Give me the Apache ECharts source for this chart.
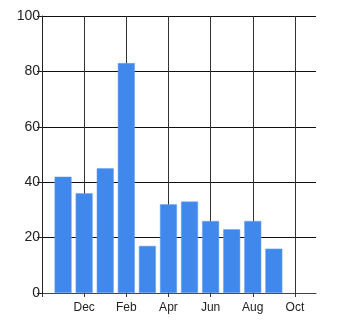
<!DOCTYPE html>
<html><head><meta charset="utf-8">
<script src="https://cdn.jsdelivr.net/npm/echarts@6/dist/echarts.min.js"></script>
<style>html,body{margin:0;padding:0;background:#fff}#c{width:345px;height:335px}</style>
</head><body><div id="c"></div>
<script>
var categories = ['Oct','Nov','Dec','Jan','Feb','Mar','Apr','May','Jun','Jul','Aug','Sep','Oct','Nov'];
var values = [null, 42, 36, 45, 83, 17, 32, 33, 26, 23, 26, 16, null, null];
var yTicks = [0, 20, 40, 60, 80, 100];

var shown = function (i) { return i > 0 && i % 2 === 0 && i <= 12; };
var tickShown = function (i) { return i % 2 === 0 && i <= 12; };

var chart = echarts.init(document.getElementById('c'), null, {renderer: 'canvas'});
chart.setOption({
  animation: false,
  backgroundColor: '#fff',
  grid: {left: 42, right: 29, top: 16, bottom: 42, containLabel: false},
  xAxis: {
    type: 'category',
    data: categories,
    boundaryGap: false,
    axisLine: {show: true, lineStyle: {color: '#444', width: 1}},
    axisTick: {show: true, interval: function (i) { return tickShown(i); }, length: 4, lineStyle: {color: '#333'}},
    axisLabel: {interval: function (i) { return shown(i); }, color: '#222', fontFamily: 'Liberation Sans', fontSize: 12, margin: 9},
    splitLine: {show: true, interval: function (i) { return tickShown(i); }, lineStyle: {color: '#333', width: 1}}
  },
  yAxis: {
    type: 'value',
    min: yTicks[0],
    max: yTicks[yTicks.length - 1],
    interval: 20,
    axisLine: {show: true, lineStyle: {color: '#222', width: 1}},
    axisTick: {show: true, length: 5, lineStyle: {color: '#222'}},
    axisLabel: {color: '#222', fontFamily: 'Liberation Sans', fontSize: 14, margin: 2},
    splitLine: {show: true, lineStyle: {color: '#111', width: 1}}
  },
  series: [{
    type: 'bar',
    data: values,
    barWidth: 17,
    itemStyle: {color: '#4188EC', borderColor: '#6aa2f0', borderWidth: 0.5}
  }]
});
</script></body></html>
